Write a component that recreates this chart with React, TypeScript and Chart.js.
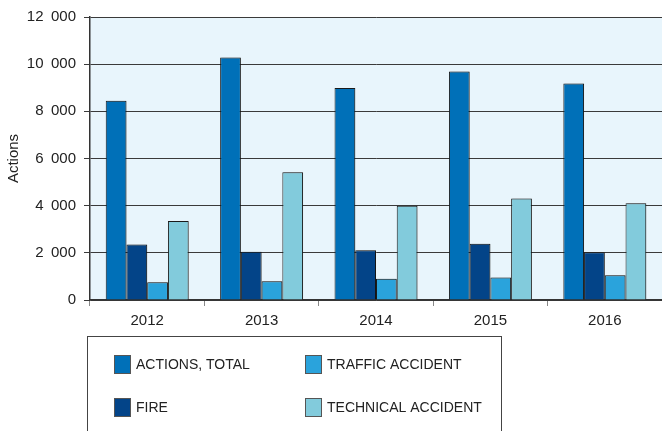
import React, { useEffect, useRef } from "react";
import { Chart, registerables } from "chart.js";

Chart.register(...registerables);

const years = ["2012", "2013", "2014", "2015", "2016"];
const actionsTotal = [8450, 10280, 8985, 9690, 9180];
const fire = [2350, 2050, 2110, 2380, 2020];
const trafficAccident = [750, 800, 900, 950, 1050];
const technicalAccident = [3350, 5420, 4000, 4300, 4100];
const yTickValues = [0, 2000, 4000, 6000, 8000, 10000, 12000];
const seriesLabels = ["ACTIONS, TOTAL", "FIRE", "TRAFFIC ACCIDENT", "TECHNICAL ACCIDENT"];
const seriesColors = ["#0070b8", "#034488", "#2aa3dc", "#82cbdc"];
const yTitle = "Actions";

const FONT = "'Liberation Sans', Arial, Helvetica, sans-serif";

function formatTick(v: number): string {
  const s = String(Math.round(v));
  return s.replace(/\B(?=(\d{3})+(?!\d))/g, "\u2002");
}

const bgPlugin = {
  id: "plotBg",
  beforeDraw(chart: any) {
    const { ctx, chartArea } = chart;
    ctx.save();
    ctx.fillStyle = "#e8f5fc";
    ctx.fillRect(chartArea.left, chartArea.top, chartArea.right - chartArea.left, chartArea.bottom - chartArea.top);
    ctx.restore();
  },
  beforeDatasetDraw(chart: any) {
    const ctx = chart.ctx;
    ctx.save();
    ctx.shadowColor = "rgba(0,0,0,0.2)";
    ctx.shadowOffsetX = 1.5;
    ctx.shadowOffsetY = 0;
    ctx.shadowBlur = 0;
  },
  afterDatasetDraw(chart: any) {
    chart.ctx.restore();
  },
};

const legendPlugin = {
  id: "boxLegend",
  afterDraw(chart: any) {
    const { ctx } = chart;
    ctx.save();
    ctx.strokeStyle = "#444";
    ctx.lineWidth = 1;
    ctx.strokeRect(87.5, 336.5, 414, 120);
    const colX = [114, 305];
    const textX = [136, 327];
    const rowY = [364.5, 407.5];
    chart.data.datasets.forEach((ds: any, i: number) => {
      const col = i < 2 ? 0 : 1;
      const row = i % 2;
      const bx = colX[col];
      const cy = rowY[row];
      ctx.fillStyle = ds.backgroundColor;
      ctx.fillRect(bx, cy - 9.5, 17, 19);
      ctx.strokeStyle = "#555";
      ctx.lineWidth = 1;
      ctx.strokeRect(bx + 0.5, cy - 9, 16, 18);
      ctx.fillStyle = "#222";
      ctx.font = `14px ${FONT}`;
      ctx.textBaseline = "middle";
      ctx.textAlign = "left";
      ctx.fillText(ds.label, textX[col], cy + 0.5);
    });
    ctx.restore();
  },
};

export default function App() {
  const ref = useRef<HTMLCanvasElement>(null);
  useEffect(() => {
    if (!ref.current) return;
    const values = [actionsTotal, fire, trafficAccident, technicalAccident];
    const chart = new Chart(ref.current, {
      type: "bar",
      data: {
        labels: years,
        datasets: values.map((d, i) => ({
          label: seriesLabels[i],
          data: d,
          backgroundColor: seriesColors[i],
          borderColor: "#1a1a1a",
          borderWidth: 1,
          categoryPercentage: 0.725,
          barPercentage: 1.0,
        })),
      },
      options: {
        responsive: false,
        animation: false,
        devicePixelRatio: 1,
        layout: { padding: { top: 16, right: 0, left: 0, bottom: 101 } },
        plugins: { legend: { display: false }, tooltip: { enabled: false } },
        scales: {
          x: {
            afterFit(scale: any) {
              scale.height = 30;
            },
            grid: {
              display: true,
              drawOnChartArea: false,
              drawTicks: true,
              tickLength: 6,
              color: "#888",
              offset: true,
            },
            border: { display: true, color: "#333", width: 1.5 },
            ticks: {
              color: "#222",
              font: { family: FONT, size: 15 },
              padding: 6,
            },
          },
          y: {
            min: 0,
            max: 12000,
            afterFit(scale: any) {
              scale.width = 90;
            },
            afterBuildTicks(scale: any) {
              scale.ticks = yTickValues.map((v) => ({ value: v }));
            },
            grid: {
              color: "#3a3a3a",
              lineWidth: 1,
              tickLength: 6,
              drawTicks: true,
            },
            border: { display: true, color: "#333", width: 1.5 },
            ticks: {
              color: "#222",
              font: { family: FONT, size: 15 },
              padding: 8,
              callback: (v: any) => formatTick(Number(v)),
            },
            title: {
              display: true,
              text: yTitle,
              color: "#222",
              font: { family: FONT, size: 15 },
              padding: { top: 5, bottom: 0 },
            },
          },
        },
      },
      plugins: [bgPlugin, legendPlugin],
    });
    return () => chart.destroy();
  }, []);
  return (
    <div style={{ position: "fixed", left: 0, top: 0, width: 662, height: 431, background: "#fff" }}>
      <canvas ref={ref} width={662} height={431} style={{ display: "block", width: 662, height: 431 }} />
    </div>
  );
}
